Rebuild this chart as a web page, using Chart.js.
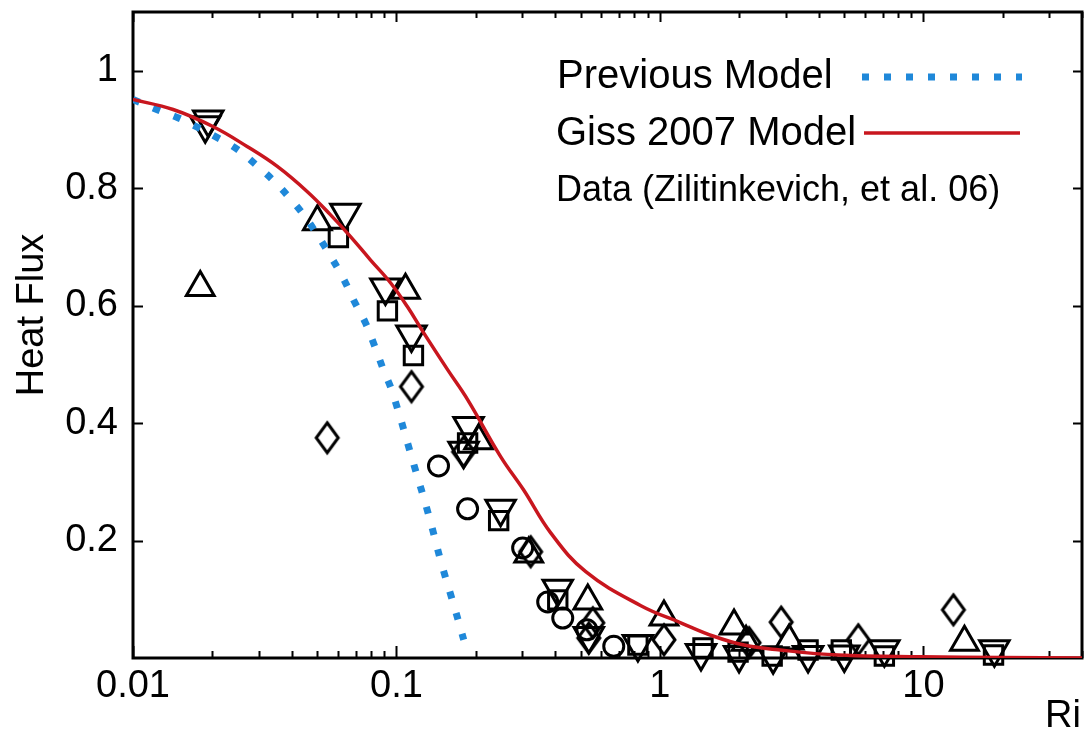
<!DOCTYPE html>
<html>
<head>
<meta charset="utf-8">
<script src="https://cdn.jsdelivr.net/npm/chart.js@4/dist/chart.umd.min.js"></script>
<style>
html,body{margin:0;padding:0;background:#fff;}
#c{display:block;}
</style>
</head>
<body>
<canvas id="c" width="1088" height="730"></canvas>
<script>
// ---- Data ----
const xTickLabels = [0.01, 0.1, 1, 10];
const yTickLabels = [0.2, 0.4, 0.6, 0.8, 1];

const prevModelX = [0.01, 0.0123, 0.0148, 0.0177, 0.0209, 0.0249, 0.0291, 0.0341, 0.0392, 0.0447, 0.0505, 0.0566, 0.0629, 0.0692, 0.0762, 0.0825, 0.0892, 0.0966, 0.117, 0.1324, 0.148, 0.1676, 0.18];
const prevModelY = [0.951, 0.934, 0.920, 0.903, 0.886, 0.866, 0.841, 0.813, 0.784, 0.753, 0.718, 0.682, 0.646, 0.607, 0.571, 0.532, 0.491, 0.452, 0.326, 0.244, 0.162, 0.080, 0.031];

const gissModelX = [0.01, 0.0142, 0.0201, 0.0271, 0.0353, 0.0459, 0.0561, 0.0668, 0.0796, 0.0949, 0.1101, 0.1267, 0.1563, 0.1862, 0.2485, 0.304, 0.385, 0.523, 0.847, 1.20, 1.6, 2.09, 2.81, 4.75, 9.83, 20, 40];
const gissModelY = [0.951, 0.934, 0.905, 0.871, 0.837, 0.794, 0.755, 0.718, 0.678, 0.639, 0.598, 0.554, 0.491, 0.440, 0.343, 0.286, 0.213, 0.147, 0.089, 0.060, 0.037, 0.022, 0.014, 0.005, 0.002, 0.001, 0.0];

const upTriX = [0.018, 0.0501, 0.1082, 0.205, 0.3177, 0.5324, 1.036, 1.911, 2.123, 3.094, 14.32];
const upTriY = [0.631, 0.743, 0.626, 0.370, 0.177, 0.097, 0.070, 0.0545, 0.027, 0.029, 0.027];

const downTriX = [0.0193, 0.0188, 0.064, 0.0908, 0.114, 0.1878, 0.1798, 0.2485, 0.4095, 0.537, 0.825, 1.432, 1.997, 2.69, 3.65, 5.01, 7.11, 18.6];
const downTriY = [0.917, 0.907, 0.758, 0.631, 0.551, 0.395, 0.353, 0.254, 0.118, 0.0375, 0.024, 0.0085, 0.005, 0.003, 0.005, 0.006, 0.015, 0.015];

const squareX = [0.0602, 0.0924, 0.116, 0.1862, 0.2443, 0.4095, 0.825, 1.457, 1.98, 2.667, 3.65, 4.88, 7.11, 18.46];
const squareY = [0.716, 0.591, 0.515, 0.366, 0.234, 0.099, 0.022, 0.017, 0.010, 0.0035, 0.0136, 0.0136, 0.0034, 0.005];

const diamondX = [0.0546, 0.114, 0.1798, 0.3232, 0.556, 0.537, 1.036, 2.18, 2.885, 5.66, 13.0];
const diamondY = [0.375, 0.462, 0.351, 0.181, 0.060, 0.034, 0.031, 0.026, 0.061, 0.031, 0.082];

const circleX = [0.1444, 0.1862, 0.3013, 0.375, 0.4277, 0.528, 0.668];
const circleY = [0.327, 0.254, 0.1875, 0.0955, 0.068, 0.048, 0.020];

const legendLabels = ['Previous Model', 'Giss 2007 Model', 'Data (Zilitinkevich, et al. 06)'];
const xTitle = 'Ri';
const yTitle = 'Heat Flux';

// ---- Styling ----
const FONT = "'Liberation Sans', Arial, Helvetica, sans-serif";
const BLUE = '#1f88d9';
const RED = '#c8161e';

const pts = (xs, ys) => xs.map((x, i) => ({x: x, y: ys[i]}));

// elongated diamond marker
const diamondImg = (() => {
  const c = document.createElement('canvas');
  c.width = 28; c.height = 36;
  const g = c.getContext('2d');
  g.strokeStyle = '#000'; g.lineWidth = 3; g.lineJoin = 'miter';
  g.beginPath();
  g.moveTo(14, 3); g.lineTo(25, 18); g.lineTo(14, 33); g.lineTo(3, 18); g.closePath();
  g.stroke();
  return c;
})();

function markerSet(label, xs, ys, style, radius, rotation) {
  return {
    label: label, type: 'scatter', data: pts(xs, ys),
    pointStyle: style, pointRadius: radius, pointRotation: rotation || 0,
    pointBorderColor: '#000', pointBackgroundColor: 'rgba(0,0,0,0)',
    pointBorderWidth: 3, showLine: false, clip: false, order: 5
  };
}

const decoPlugin = {
  id: 'deco',
  beforeDatasetsDraw(chart) {
    const ctx = chart.ctx, a = chart.chartArea;
    const xs = chart.scales.x, ys = chart.scales.y;
    ctx.save();
    ctx.strokeStyle = '#000';
    ctx.lineWidth = 2;
    const minors = [];
    for (let d = 0.01; d < 50; d *= 10) {
      for (let k = 2; k <= 9; k++) { const v = +(k * d).toPrecision(3); if (v <= 40) minors.push(v); }
    }
    ctx.beginPath();
    minors.forEach(v => {
      const px = Math.round(xs.getPixelForValue(v)) + 0.5;
      ctx.moveTo(px, a.bottom); ctx.lineTo(px, a.bottom - 7);
      ctx.moveTo(px, a.top); ctx.lineTo(px, a.top + 6);
    });
    xTickLabels.forEach(v => {
      const px = Math.round(xs.getPixelForValue(v)) + 0.5;
      ctx.moveTo(px, a.bottom); ctx.lineTo(px, a.bottom - 12);
      ctx.moveTo(px, a.top); ctx.lineTo(px, a.top + 10);
    });
    yTickLabels.forEach(v => {
      const py = Math.round(ys.getPixelForValue(v)) + 0.5;
      ctx.moveTo(a.left, py); ctx.lineTo(a.left + 10, py);
      ctx.moveTo(a.right, py); ctx.lineTo(a.right - 9, py);
    });
    ctx.stroke();
    ctx.lineWidth = 3;
    ctx.strokeRect(a.left, a.top, a.right - a.left, a.bottom - a.top);
    ctx.restore();
  },
  afterDraw(chart) {
    const ctx = chart.ctx, a = chart.chartArea;
    ctx.save();
    ctx.fillStyle = '#000';
    ctx.textBaseline = 'middle';
    ctx.textAlign = 'left';
    ctx.font = '40px ' + FONT;
    ctx.fillText(legendLabels[0], 557, 77);
    ctx.fillText(legendLabels[1], 556, 134);
    ctx.font = '36px ' + FONT;
    ctx.fillText(legendLabels[2], 556, 191);
    ctx.lineCap = 'butt';
    ctx.strokeStyle = BLUE; ctx.lineWidth = 7; ctx.setLineDash([7, 15]);
    ctx.beginPath(); ctx.moveTo(862, 77); ctx.lineTo(1022, 77); ctx.stroke();
    ctx.setLineDash([]);
    ctx.strokeStyle = RED; ctx.lineWidth = 3.5;
    ctx.beginPath(); ctx.moveTo(864, 133); ctx.lineTo(1020, 133); ctx.stroke();
    ctx.font = '38px ' + FONT;
    ctx.textAlign = 'right';
    ctx.textBaseline = 'alphabetic';
    ctx.fillText(xTitle, a.right - 1, 727);
    ctx.translate(43, 315);
    ctx.rotate(-Math.PI / 2);
    ctx.textAlign = 'center';
    ctx.fillText(yTitle, 0, 0);
    ctx.restore();
  }
};

new Chart(document.getElementById('c'), {
  type: 'scatter',
  data: {
    datasets: [
      {label: legendLabels[1], type: 'line', data: pts(gissModelX, gissModelY), borderColor: RED, borderWidth: 3.5, pointRadius: 0, fill: false, tension: 0.4, order: 1},
      {label: legendLabels[0], type: 'line', data: pts(prevModelX, prevModelY), borderColor: BLUE, borderWidth: 7, borderDash: [7, 15], borderCapStyle: 'butt', pointRadius: 0, fill: false, tension: 0.4, order: 2},
      markerSet('up', upTriX, upTriY, 'triangle', 16, 0),
      markerSet('down', downTriX, downTriY, 'triangle', 17, 180),
      markerSet('square', squareX, squareY, 'rect', 13, 0),
      markerSet('diamond', diamondX, diamondY, diamondImg, 14, 0),
      markerSet('circle', circleX, circleY, 'circle', 10, 0)
    ]
  },
  options: {
    responsive: false,
    devicePixelRatio: 1,
    animation: false,
    events: [],
    layout: {autoPadding: false, padding: {left: 0, right: 6, top: 12, bottom: 0}},
    plugins: {legend: {display: false}, tooltip: {enabled: false}, title: {display: false}},
    scales: {
      x: {
        type: 'logarithmic', min: 0.01, max: 40,
        border: {display: false},
        grid: {display: false, drawTicks: false},
        afterBuildTicks: s => { s.ticks = xTickLabels.map(v => ({value: v})); },
        afterFit: s => { s.height = 72; s.paddingLeft = 0; s.paddingRight = 0; },
        ticks: {color: '#000', font: {family: FONT, size: 38}, padding: 6, maxRotation: 0, autoSkip: false,
          callback: v => String(v)}
      },
      y: {
        type: 'linear', min: 0, max: 1.1,
        border: {display: false},
        grid: {display: false, drawTicks: false},
        afterBuildTicks: s => { s.ticks = yTickLabels.map(v => ({value: v})); },
        afterFit: s => { s.width = 133; s.paddingTop = 0; s.paddingBottom = 0; },
        ticks: {color: '#000', font: {family: FONT, size: 38}, padding: 15,
          callback: v => String(Math.round(v * 10) / 10)}
      }
    }
  },
  plugins: [decoPlugin]
});
</script>
</body>
</html>
